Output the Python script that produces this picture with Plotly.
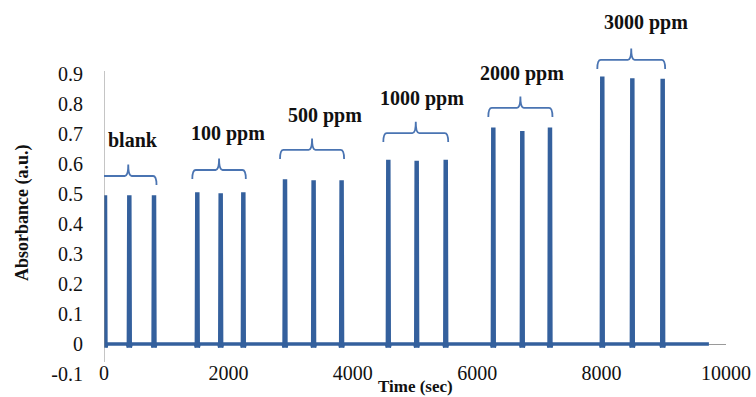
import plotly.graph_objects as go

# Injection groups and the peak absorbance of each repeated injection
groups = ["blank", "100 ppm", "500 ppm", "1000 ppm", "2000 ppm", "3000 ppm"]
peak_times = [
    [16, 407, 804],
    [1500, 1876, 2240],
    [2910, 3370, 3820],
    [4571, 5027, 5494],
    [6259, 6725, 7170],
    [8011, 8494, 8982],
]
peak_heights = [
    [0.490, 0.490, 0.490],
    [0.500, 0.497, 0.500],
    [0.543, 0.540, 0.540],
    [0.608, 0.605, 0.608],
    [0.716, 0.704, 0.716],
    [0.886, 0.880, 0.878],
]
run_end = 9725
x_ticks = [0, 2000, 4000, 6000, 8000, 10000]
y_ticks = [-0.1, 0, 0.1, 0.2, 0.3, 0.4, 0.5, 0.6, 0.7, 0.8, 0.9]

# Layout-only placement of the group braces and their captions
brace_levels = [0.56, 0.58, 0.647, 0.703, 0.787, 0.947]
caption_x = [466, 1990, 3550, 5113, 6720, 8714]
caption_y = [0.68, 0.703, 0.763, 0.82, 0.903, 1.073]

BLUE = "#34609d"
BRACE = "#4a74b2"
SERIF = "Liberation Serif, Times New Roman, serif"

# Each injection is a narrow pulse off the baseline
xs, ys = [], []
for times, heights in zip(peak_times, peak_heights):
    for t, h in zip(times, heights):
        xs += [t - 30, t - 15, t - 8, t + 8, t + 15, t + 30]
        ys += [0, -0.012, h, h, -0.012, 0]
xs.append(run_end)
ys.append(0)

fig = go.Figure()
fig.add_trace(go.Scatter(x=xs, y=ys, mode="lines",
                         line=dict(color=BLUE, width=3.5), showlegend=False,
                         hoverinfo="skip"))

shapes = []
# vertical value axis line
shapes.append(dict(type="line", xref="x", yref="y", x0=0, x1=0, y0=-0.06, y1=0.91,
                   line=dict(color="#8c8c8c", width=1)))

# curly braces over each group
for times, level in zip(peak_times, brace_levels):
    x0 = times[0] - 80
    x1 = times[-1] + 40
    xm = (x0 + x1) / 2
    d = 55
    lo = level - 0.03
    hi = level + 0.038
    path = (f"M {x0},{lo} Q {x0},{level} {x0 + d},{level} "
            f"L {xm - d},{level} Q {xm},{level} {xm},{hi} "
            f"Q {xm},{level} {xm + d},{level} "
            f"L {x1 - d},{level} Q {x1},{level} {x1},{lo}")
    shapes.append(dict(type="path", xref="x", yref="y", path=path,
                       line=dict(color=BRACE, width=1.8)))

annotations = []
for name, cx, cy in zip(groups, caption_x, caption_y):
    annotations.append(dict(x=cx, y=cy, xref="x", yref="y", text=f"<b>{name}</b>",
                            showarrow=False, font=dict(family=SERIF, size=20, color="#111")))

annotations.append(dict(x=-0.15, y=0.437, xref="paper", yref="y",
                        text="<b>Absorbance (a.u.)</b>", textangle=-90, showarrow=False,
                        font=dict(family=SERIF, size=18, color="#111")))
annotations.append(dict(x=5000, y=-0.034, xref="x", yref="paper", yanchor="middle",
                        text="<b>Time (sec)</b>", showarrow=False,
                        font=dict(family=SERIF, size=17, color="#111")))

fig.update_layout(
    width=756, height=397,
    margin=dict(l=104, r=30, t=8, b=23),
    paper_bgcolor="white", plot_bgcolor="white",
    shapes=shapes, annotations=annotations,
    xaxis=dict(range=[0, 10000], tickvals=x_ticks, ticktext=[str(v) for v in x_ticks],
               showgrid=False, zeroline=False, showline=False, ticks="",
               anchor="free", position=0.042, automargin=False,
               tickfont=dict(family=SERIF, size=20, color="#111")),
    yaxis=dict(range=[-0.1, 1.12], tickvals=y_ticks,
               ticktext=["-0.1", "0", "0.1", "0.2", "0.3", "0.4", "0.5", "0.6", "0.7", "0.8", "0.9"],
               showgrid=False, zeroline=True, zerolinecolor="#9a9a9a", zerolinewidth=1,
               showline=False, ticks="", ticklabelstandoff=20, automargin=False,
               tickfont=dict(family=SERIF, size=20, color="#111")),
)

fig.write_html("out.html")
